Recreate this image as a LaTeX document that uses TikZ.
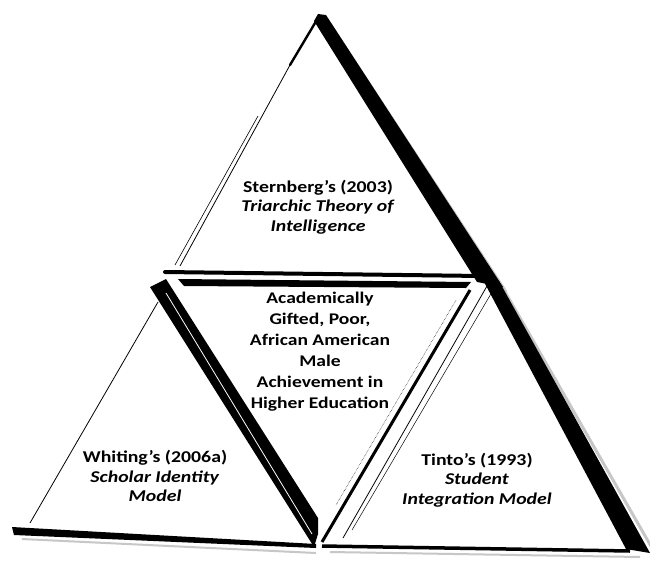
\documentclass[tikz,border=0pt]{standalone}
\usepackage{fontspec}
\setmainfont{Carlito}[FakeStretch=1.2]
\begin{document}
\begin{tikzpicture}[x=1pt,y=-1pt,
  txt/.style={align=center,inner sep=0pt,font=\bfseries\fontsize{16.5}{19.5}\selectfont},
  midtxt/.style={align=center,inner sep=0pt,font=\bfseries\fontsize{16.3}{21}\selectfont},
  thinedge/.style={line width=0.8pt},
  shade/.style={line width=3pt,black!22}]
\useasboundingbox (0,0) rectangle (650,563);
\fill[white] (0,0) rectangle (650,563);
% soft shadows
\draw[shade] (330,24) -- (506,292);
\draw[shade] (504,290) -- (652,548);
\draw[shade,line width=2pt] (22,539) -- (316,553);
\draw[shade,line width=2pt] (330,552) -- (640,557);
% ---- top triangle ----
\fill (314,21) -- (318,14) -- (326,15) -- (503,287) -- (477,282) -- cycle;
\draw[line width=2.4pt,line cap=round] (318,18) -- (290,65);
\draw[thinedge] (290,65) -- (180,266);
\draw[line width=0.6pt] (258,116) -- (175,265);
% ---- middle (inverted) triangle ----
\draw[line width=4pt,line cap=round] (165,272) -- (482,276);
\fill (178,279) -- (471,282) -- (466,288) -- (184,286) -- cycle;
\fill (150,287) -- (166,279) -- (318,518) -- (318,534) -- (314,547) -- cycle;
\draw[white,line width=0.8pt] (166,293) -- (312,534);
\draw[line width=3pt] (470,290) -- (322,542);
\draw[line width=0.5pt,densely dotted] (456,300) -- (336,505);
% ---- right triangle ----
\draw[thinedge] (487,286) -- (343,538);
\draw[line width=0.5pt] (492,292) -- (352,530);
\fill (483,280) -- (499,281) -- (650,553) -- (626,549) -- cycle;
\draw[line width=3.5pt] (322,546) -- (630,551);
% ---- left triangle ----
\draw[thinedge] (158,302) -- (30,523);
\fill (12,527) -- (316,544) -- (316,548) -- (14,535) -- cycle;
% ---- texts ----
\node[txt] (sternberg) at (318,207) {Sternberg’s (2003)\\\textit{Triarchic Theory of}\\\textit{Intelligence}};
\node[midtxt] (center) at (320,352) {Academically\\Gifted, Poor,\\African American\\Male\\Achievement in\\Higher Education};
\node[txt] (whiting) at (155,476) {Whiting’s (2006a)\\\textit{Scholar Identity}\\\textit{Model}};
\node[txt] (tinto) at (477,480) {Tinto’s (1993)\\\textit{Student}\\\textit{Integration Model}};
\end{tikzpicture}
\end{document}
